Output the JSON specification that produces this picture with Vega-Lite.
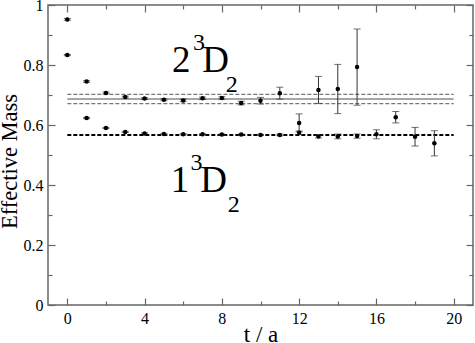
{
  "$schema": "https://vega.github.io/schema/vega-lite/v6.json",
  "width": 425,
  "height": 300,
  "autosize": {"type": "none"},
  "padding": {"left": 48, "top": 5, "right": 2, "bottom": 38},
  "background": "white",
  "data": {"values": [{}]},
  "config": {
    "view": {"stroke": "#666", "strokeWidth": 1.5},
    "axis": {"grid": false, "domain": false, "tickColor": "#666", "tickWidth": 1.2, "labelFont": "Liberation Serif", "labelFontSize": 16, "labelColor": "black", "titleFont": "Liberation Serif", "titleFontWeight": "normal", "titleColor": "black"},
    "text": {"font": "Liberation Serif", "color": "black", "align": "left", "baseline": "alphabetic"}
  },
  "datasets": {
    "pts": [
      {"t": 0, "s": "2", "m": 0.952, "e": 0.003},
      {"t": 1, "s": "2", "m": 0.745, "e": 0.003},
      {"t": 2, "s": "2", "m": 0.707, "e": 0.003},
      {"t": 3, "s": "2", "m": 0.693, "e": 0.003},
      {"t": 4, "s": "2", "m": 0.688, "e": 0.003},
      {"t": 5, "s": "2", "m": 0.684, "e": 0.003},
      {"t": 6, "s": "2", "m": 0.682, "e": 0.004},
      {"t": 7, "s": "2", "m": 0.689, "e": 0.004},
      {"t": 8, "s": "2", "m": 0.690, "e": 0.004},
      {"t": 9, "s": "2", "m": 0.673, "e": 0.006},
      {"t": 10, "s": "2", "m": 0.681, "e": 0.011},
      {"t": 11, "s": "2", "m": 0.706, "e": 0.020},
      {"t": 12, "s": "2", "m": 0.607, "e": 0.030},
      {"t": 13, "s": "2", "m": 0.717, "e": 0.045},
      {"t": 14, "s": "2", "m": 0.720, "e": 0.082},
      {"t": 15, "s": "2", "m": 0.793, "e": 0.127},
      {"t": 17, "s": "2", "m": 0.626, "e": 0.019},
      {"t": 0, "s": "1", "m": 0.833, "e": 0.002},
      {"t": 1, "s": "1", "m": 0.623, "e": 0.002},
      {"t": 2, "s": "1", "m": 0.590, "e": 0.002},
      {"t": 3, "s": "1", "m": 0.577, "e": 0.002},
      {"t": 4, "s": "1", "m": 0.572, "e": 0.002},
      {"t": 5, "s": "1", "m": 0.570, "e": 0.002},
      {"t": 6, "s": "1", "m": 0.569, "e": 0.002},
      {"t": 7, "s": "1", "m": 0.569, "e": 0.002},
      {"t": 8, "s": "1", "m": 0.568, "e": 0.002},
      {"t": 9, "s": "1", "m": 0.568, "e": 0.002},
      {"t": 10, "s": "1", "m": 0.567, "e": 0.002},
      {"t": 11, "s": "1", "m": 0.567, "e": 0.003},
      {"t": 12, "s": "1", "m": 0.574, "e": 0.006},
      {"t": 13, "s": "1", "m": 0.562, "e": 0.005},
      {"t": 14, "s": "1", "m": 0.562, "e": 0.008},
      {"t": 15, "s": "1", "m": 0.563, "e": 0.007},
      {"t": 16, "s": "1", "m": 0.569, "e": 0.015},
      {"t": 18, "s": "1", "m": 0.561, "e": 0.031},
      {"t": 19, "s": "1", "m": 0.539, "e": 0.042}
    ],
    "fitSolid": [{"level": 0.687}],
    "fitDash": [{"level": 0.702}, {"level": 0.671}],
    "fitLow": [{"level": 0.567}]
  },
  "layer": [
    {
      "data": {"name": "fitSolid"},
      "mark": {"type": "rule", "color": "#888", "strokeWidth": 1.5},
      "encoding": {
        "x": {"datum": 0, "type": "quantitative", "scale": {"domain": [-1, 21], "nice": false, "zero": false},
          "axis": {"orient": "top", "values": [0, 4, 8, 12, 16, 20], "labels": false, "tickSize": -7, "title": null}},
        "x2": {"datum": 20},
        "y": {"field": "level", "type": "quantitative", "scale": {"domain": [0, 1], "nice": false, "zero": false},
          "axis": {"orient": "right", "values": [0, 0.2, 0.4, 0.6, 0.8, 1], "labels": false, "tickSize": -7, "title": null}}
      }
    },
    {
      "data": {"name": "fitDash"},
      "mark": {"type": "rule", "color": "#777", "strokeWidth": 1.2, "strokeDash": [4, 2]},
      "encoding": {
        "x": {"datum": 0, "type": "quantitative", "scale": {"domain": [-1, 21], "nice": false, "zero": false},
          "axis": {"orient": "top", "values": [2, 6, 10, 14, 18], "labels": false, "tickSize": -4, "title": null}},
        "x2": {"datum": 20},
        "y": {"field": "level", "type": "quantitative", "scale": {"domain": [0, 1], "nice": false, "zero": false},
          "axis": {"orient": "right", "values": [0.1, 0.3, 0.5, 0.7, 0.9], "labels": false, "tickSize": -4, "title": null}}
      }
    },
    {
      "data": {"name": "fitLow"},
      "mark": {"type": "rule", "color": "black", "strokeWidth": 2, "strokeDash": [4, 2]},
      "encoding": {
        "x": {"datum": 0, "type": "quantitative", "scale": {"domain": [-1, 21], "nice": false, "zero": false},
          "axis": {"orient": "bottom", "values": [2, 6, 10, 14, 18], "labels": false, "tickSize": -4, "title": null}},
        "x2": {"datum": 20},
        "y": {"field": "level", "type": "quantitative", "scale": {"domain": [0, 1], "nice": false, "zero": false},
          "axis": {"orient": "left", "values": [0.1, 0.3, 0.5, 0.7, 0.9], "labels": false, "tickSize": -4, "title": null}}
      }
    },
    {
      "data": {"name": "pts"},
      "transform": [{"calculate": "datum.m - datum.e", "as": "lo"}, {"calculate": "datum.m + datum.e", "as": "hi"}],
      "layer": [
        {
          "mark": {"type": "rule", "color": "#333", "strokeWidth": 1},
          "encoding": {
            "x": {"field": "t", "type": "quantitative", "axis": null},
            "y": {"field": "lo", "type": "quantitative", "axis": null},
            "y2": {"field": "hi"}
          }
        },
        {
          "mark": {"type": "tick", "orient": "horizontal", "color": "#333", "size": 7, "thickness": 1},
          "encoding": {
            "x": {"field": "t", "type": "quantitative", "axis": null},
            "y": {"field": "lo", "type": "quantitative", "axis": null}
          }
        },
        {
          "mark": {"type": "tick", "orient": "horizontal", "color": "#333", "size": 7, "thickness": 1},
          "encoding": {
            "x": {"field": "t", "type": "quantitative", "axis": null},
            "y": {"field": "hi", "type": "quantitative", "axis": null}
          }
        }
      ]
    },
    {
      "data": {"name": "pts"},
      "mark": {"type": "circle", "color": "black", "opacity": 1, "size": 20},
      "encoding": {
        "x": {"field": "t", "type": "quantitative", "scale": {"domain": [-1, 21], "nice": false, "zero": false},
          "axis": {"orient": "bottom", "values": [0, 4, 8, 12, 16, 20], "tickSize": -7, "labelPadding": 12, "title": "t / a", "titleFontSize": 23, "titleBaseline": "alphabetic", "titleY": 36.5, "titleX": 212.5, "titleAlign": "center"}},
        "y": {"field": "m", "type": "quantitative", "scale": {"domain": [0, 1], "nice": false, "zero": false},
          "axis": {"orient": "left", "values": [0, 0.2, 0.4, 0.6, 0.8, 1], "format": "~g", "tickSize": -7, "labelPadding": 12, "title": "Effective Mass", "titleFontSize": 22.5, "titleBaseline": "alphabetic", "titleAngle": -90, "titleX": -32, "titleY": 156, "titleAlign": "center"}}
      }
    },
    {"mark": {"type": "text", "fontSize": 37}, "encoding": {"x": {"datum": 5.42, "type": "quantitative", "axis": null}, "y": {"datum": 0.778, "type": "quantitative", "axis": null}, "text": {"value": "2"}}},
    {"mark": {"type": "text", "fontSize": 24}, "encoding": {"x": {"datum": 6.5, "type": "quantitative", "axis": null}, "y": {"datum": 0.85, "type": "quantitative", "axis": null}, "text": {"value": "3"}}},
    {"mark": {"type": "text", "fontSize": 37}, "encoding": {"x": {"datum": 6.98, "type": "quantitative", "axis": null}, "y": {"datum": 0.778, "type": "quantitative", "axis": null}, "text": {"value": "D"}}},
    {"mark": {"type": "text", "fontSize": 24}, "encoding": {"x": {"datum": 8.2, "type": "quantitative", "axis": null}, "y": {"datum": 0.711, "type": "quantitative", "axis": null}, "text": {"value": "2"}}},
    {"mark": {"type": "text", "fontSize": 37}, "encoding": {"x": {"datum": 5.36, "type": "quantitative", "axis": null}, "y": {"datum": 0.378, "type": "quantitative", "axis": null}, "text": {"value": "1"}}},
    {"mark": {"type": "text", "fontSize": 24}, "encoding": {"x": {"datum": 6.38, "type": "quantitative", "axis": null}, "y": {"datum": 0.45, "type": "quantitative", "axis": null}, "text": {"value": "3"}}},
    {"mark": {"type": "text", "fontSize": 37}, "encoding": {"x": {"datum": 6.88, "type": "quantitative", "axis": null}, "y": {"datum": 0.378, "type": "quantitative", "axis": null}, "text": {"value": "D"}}},
    {"mark": {"type": "text", "fontSize": 24}, "encoding": {"x": {"datum": 8.3, "type": "quantitative", "axis": null}, "y": {"datum": 0.311, "type": "quantitative", "axis": null}, "text": {"value": "2"}}}
  ],
  "resolve": {"axis": {"x": "independent", "y": "independent"}}
}
